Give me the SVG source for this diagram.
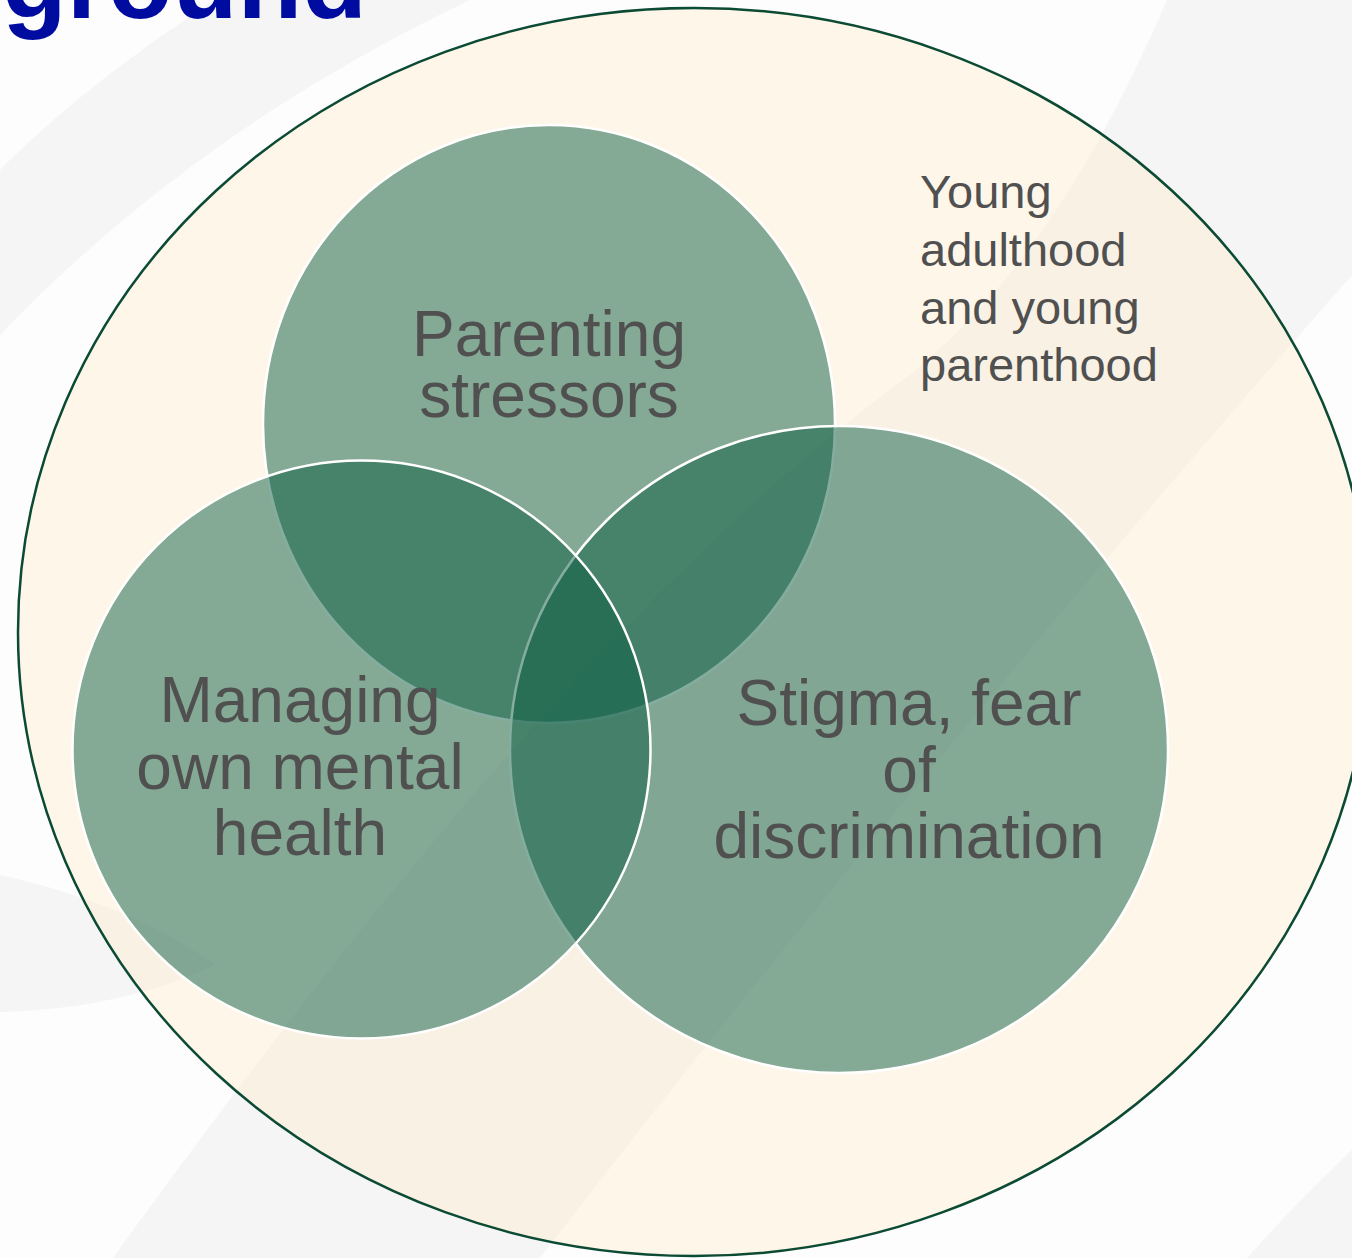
<svg xmlns="http://www.w3.org/2000/svg" width="1352" height="1258" viewBox="0 0 1352 1258">
  <style>
    .bg { fill: #f5f5f5; }
    .set { fill: #0a5b41; fill-opacity: 0.5; stroke: #ffffff; stroke-width: 2.5; }
    .lbl { font-family: "Liberation Sans", Arial, sans-serif; font-size: 64px; fill: #505050; text-anchor: middle; }
    .ctx { font-family: "Liberation Sans", Arial, sans-serif; font-size: 47px; fill: #505050; }
    .title { font-family: "Liberation Sans", Arial, sans-serif; font-weight: bold; font-size: 106px; fill: #000ca0; }
  </style>
  <g id="background">
    <rect x="0" y="0" width="1352" height="1258" fill="#fdfdfd"/>
    <path class="bg" d="M0,335 C110,220 260,100 470,0 L215,0 C130,55 60,110 0,170 Z"/>
    <path class="bg" d="M0,875 C90,895 160,925 215,965 C150,995 80,1010 0,1012 Z"/>
    <path class="bg" d="M113,1258 C300,1000 600,600 910,375 C1000,300 1080,200 1167,0 L1352,0 L1352,275 C1100,560 800,920 540,1258 Z"/>
    <path class="bg" d="M1247,1258 C1290,1210 1320,1180 1352,1150 L1352,1258 Z"/>
  </g>
  <g id="context">
    <ellipse cx="694" cy="632" rx="676" ry="624" fill="#ffebc8" fill-opacity="0.38" stroke="#0b4a33" stroke-width="2.5"/>
    <text class="ctx" x="920" y="208">Young</text>
    <text class="ctx" x="920" y="266">adulthood</text>
    <text class="ctx" x="920" y="324">and young</text>
    <text class="ctx" x="920" y="381">parenthood</text>
  </g>
  <g id="parenting">
    <ellipse class="set" cx="549" cy="424" rx="286" ry="299"/>
  </g>
  <g id="stigma">
    <ellipse class="set" cx="839" cy="749.5" rx="329" ry="323.5"/>
  </g>
  <g id="mental-health">
    <circle class="set" cx="361.5" cy="749.5" r="289"/>
  </g>
  <g id="labels">
    <text class="lbl" x="549" y="356">Parenting</text>
    <text class="lbl" x="549" y="417">stressors</text>
    <text class="lbl" x="300" y="722">Managing</text>
    <text class="lbl" x="300" y="789">own mental</text>
    <text class="lbl" x="300" y="855">health</text>
    <text class="lbl" x="909" y="725">Stigma, fear</text>
    <text class="lbl" x="909" y="792">of</text>
    <text class="lbl" x="909" y="858">discrimination</text>
  </g>
  <g id="title">
    <text class="title" x="2" y="18">ground</text>
  </g>
  <g id="connectors"/>
</svg>
